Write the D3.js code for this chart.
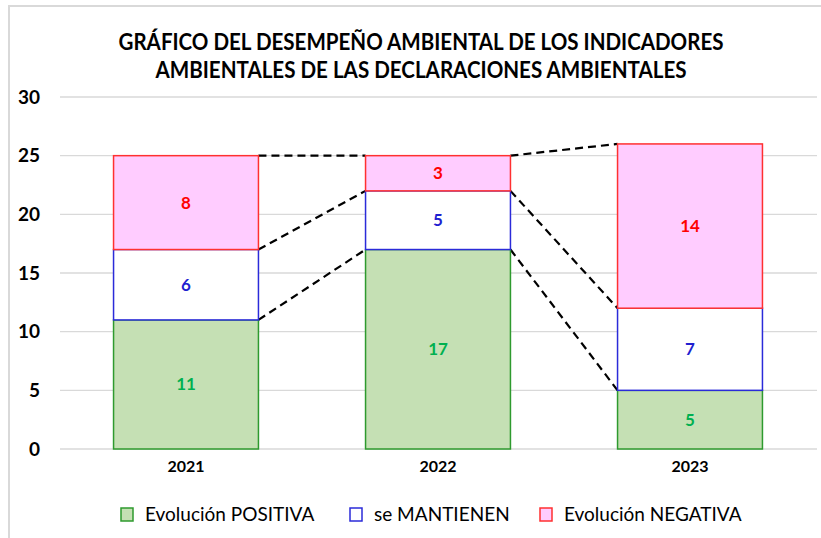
<!DOCTYPE html>
<html>
<head>
<meta charset="utf-8">
<script src="https://cdn.jsdelivr.net/npm/d3@7"></script>
<style>
  body { margin: 0; background: #fff; }
  svg text { font-family: Lato, "Open Sans", sans-serif; }
</style>
</head>
<body>
<script>
// data
var years = ['2021', '2022', '2023'];
var positiva = [11, 17, 5];
var mantienen = [6, 5, 7];
var negativa = [8, 3, 14];
var seriesNames = ['Evolución POSITIVA', 'se MANTIENEN', 'Evolución NEGATIVA'];
var titleLines = ['GRÁFICO DEL DESEMPEÑO AMBIENTAL DE LOS INDICADORES',
                  'AMBIENTALES DE LAS DECLARACIONES AMBIENTALES'];
var yTicks = [0, 5, 10, 15, 20, 25, 30];

var width = 821, height = 538;
var fills = ['#c5e0b4', '#ffffff', '#ffccff'];
var strokes = ['#2e9a2e', '#2b2bd9', '#ff3030'];
var labelColors = ['#00b050', '#1f1fd0', '#ff0000'];

var svg = d3.select('body').append('svg')
    .attr('width', width)
    .attr('height', height);

// outer chart border
svg.append('rect')
    .attr('x', 9).attr('y', 6)
    .attr('width', 830).attr('height', 560)
    .attr('fill', 'none')
    .attr('stroke', '#d9d9d9')
    .attr('stroke-width', 2);

// title, squeezed to the narrow look of the original font
var titleLen = [605, 531];
var titleY = [50, 78];
svg.append('g').selectAll('text')
    .data(titleLines)
    .join('text')
    .attr('x', 421)
    .attr('y', function(d, i){ return titleY[i]; })
    .attr('text-anchor', 'middle')
    .attr('font-weight', 'bold')
    .attr('font-size', 23)
    .attr('fill', '#000')
    .attr('textLength', function(d, i){ return titleLen[i]; })
    .attr('lengthAdjust', 'spacingAndGlyphs')
    .text(function(d){ return d; });

var x = d3.scaleBand().domain(years).range([60, 816]).paddingInner(0.425).paddingOuter(0.2125);
var y = d3.scaleLinear().domain([0, 30]).range([449, 97]);

// gridlines
svg.append('g').selectAll('line')
    .data(yTicks)
    .join('line')
    .attr('x1', 60).attr('x2', 817)
    .attr('y1', function(d){ return y(d); })
    .attr('y2', function(d){ return y(d); })
    .attr('stroke', '#d9d9d9')
    .attr('stroke-width', 1.3);

// y axis labels
var yAxis = svg.append('g')
    .attr('transform', 'translate(50,0)')
    .call(d3.axisLeft(y).tickValues(yTicks).tickSize(0).tickPadding(10));
yAxis.select('.domain').remove();
yAxis.selectAll('text')
    .attr('font-size', 19)
    .attr('font-weight', 'bold')
    .attr('fill', '#000')
    .style('font-family', 'Lato, sans-serif');

// x axis labels
var xAxis = svg.append('g')
    .attr('transform', 'translate(0,449)')
    .call(d3.axisBottom(x).tickSize(0).tickPadding(12));
xAxis.select('.domain').remove();
xAxis.selectAll('text')
    .attr('font-size', 16)
    .attr('font-weight', 'bold')
    .attr('fill', '#000')
    .style('font-family', 'Lato, sans-serif');

// stack
var table = years.map(function(yr, i){
    return { year: yr, pos: positiva[i], man: mantienen[i], neg: negativa[i] };
});
var stack = d3.stack().keys(['pos', 'man', 'neg'])(table);

// dashed connectors between adjacent bars
var conn = svg.append('g');
stack.forEach(function(layer){
    for (var i = 0; i < years.length - 1; i++) {
        conn.append('line')
            .attr('x1', x(years[i]) + x.bandwidth())
            .attr('y1', y(layer[i][1]))
            .attr('x2', x(years[i + 1]))
            .attr('y2', y(layer[i + 1][1]))
            .attr('stroke', '#000')
            .attr('stroke-width', 2.2)
            .attr('stroke-dasharray', '8,5');
    }
});

// bars
stack.forEach(function(layer, k){
    svg.append('g').selectAll('rect')
        .data(layer)
        .join('rect')
        .attr('x', function(d){ return x(d.data.year); })
        .attr('y', function(d){ return y(d[1]); })
        .attr('width', x.bandwidth())
        .attr('height', function(d){ return y(d[0]) - y(d[1]); })
        .attr('fill', fills[k])
        .attr('stroke', strokes[k])
        .attr('stroke-width', 1.5);
});

// value labels
stack.forEach(function(layer, k){
    svg.append('g').selectAll('text')
        .data(layer)
        .join('text')
        .attr('x', function(d){ return x(d.data.year) + x.bandwidth() / 2; })
        .attr('y', function(d){ return (y(d[0]) + y(d[1])) / 2; })
        .attr('dy', '0.35em')
        .attr('text-anchor', 'middle')
        .attr('font-size', 17)
        .attr('font-weight', 'bold')
        .attr('fill', labelColors[k])
        .text(function(d){ return d[1] - d[0]; });
});

// legend
var legendX = [121, 350, 540];
var legend = svg.append('g');
seriesNames.forEach(function(name, k){
    var g = legend.append('g').attr('transform', 'translate(' + legendX[k] + ',508)');
    g.append('rect')
        .attr('width', 12).attr('height', 13)
        .attr('fill', fills[k])
        .attr('stroke', strokes[k])
        .attr('stroke-width', 1.5);
    g.append('text')
        .attr('x', 24).attr('y', 13)
        .attr('font-size', 19)
        .attr('fill', '#000')
        .text(name);
});
</script>
</body>
</html>
